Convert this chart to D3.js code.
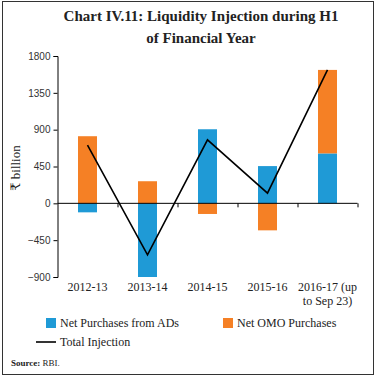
<!DOCTYPE html>
<html>
<head>
<meta charset="utf-8">
<script src="https://cdn.jsdelivr.net/npm/d3@7"></script>
<style>
  body { margin: 0; background: #fff; }
  svg { display: block; }
</style>
</head>
<body>
<div id="chart"></div>
<script>
// values (₹ billion)
var years = ["2012-13", "2013-14", "2014-15", "2015-16", "2016-17 (up|to Sep 23)"];
var netADs = [-110, -900, 905, 455, 610];
var netOMO = [820, 270, -130, -330, 1020];
var totalInjection = [710, -630, 775, 125, 1630];
var yTicks = [-900, -450, 0, 450, 900, 1350, 1800];

var W = 376, H = 377;
var blue = "#1f9ad6", orange = "#f58025";
var serif = "'Liberation Serif', 'DejaVu Serif', serif";

var svg = d3.select("#chart").append("svg")
    .attr("width", W)
    .attr("height", H);

// outer frame
svg.append("rect")
    .attr("x", 2.5).attr("y", 1.5)
    .attr("width", 371).attr("height", 373)
    .attr("fill", "none")
    .attr("stroke", "#333")
    .attr("stroke-width", 1);

// title
var title = svg.append("text")
    .attr("text-anchor", "middle")
    .attr("font-family", serif)
    .attr("font-weight", "bold")
    .attr("font-size", 15)
    .attr("fill", "#222");
title.append("tspan").attr("x", 201).attr("y", 21).text("Chart IV.11: Liquidity Injection during H1");
title.append("tspan").attr("x", 201).attr("y", 43).text("of Financial Year");

var x = d3.scaleBand()
    .domain(years)
    .range([57.5, 357.5]);

var y = d3.scaleLinear()
    .domain([-900, 1800])
    .range([277, 56]);

var barW = 19;

// bars: ADs and OMO stacked separately on each side of zero
function stackPos(i, which) {
    var a = netADs[i], o = netOMO[i];
    if (which === "ads") {
        return [0, a];
    }
    // OMO starts where ADs ended if same sign, otherwise from zero
    if ((a >= 0) === (o >= 0)) return [a, a + o];
    return [0, o];
}

var g = svg.append("g");

years.forEach(function(yr, i) {
    [["ads", blue], ["omo", orange]].forEach(function(s) {
        var p = stackPos(i, s[0]);
        g.append("rect")
            .attr("x", x(yr) + x.bandwidth() / 2 - barW / 2)
            .attr("y", y(Math.max(p[0], p[1])))
            .attr("width", barW)
            .attr("height", Math.abs(y(p[0]) - y(p[1])))
            .attr("fill", s[1]);
    });
});

// y axis
var yAxis = svg.append("g")
    .attr("transform", "translate(57.5,0)")
    .call(d3.axisLeft(y).tickValues(yTicks).tickSize(4).tickPadding(3).tickFormat(d3.format("d")));
yAxis.select(".domain").attr("stroke", "#000");
yAxis.selectAll("line").attr("stroke", "#000");
yAxis.selectAll("text")
    .attr("font-family", "'Liberation Sans', Arial, sans-serif")
    .attr("font-size", 10)
    .attr("fill", "#333");

// x axis at zero with ticks on band edges
var xAxis = svg.append("g")
    .attr("transform", "translate(0," + y(0) + ")");
xAxis.append("line")
    .attr("x1", 57.5).attr("x2", 357.5)
    .attr("stroke", "#000");
years.forEach(function(yr) {
    xAxis.append("line")
        .attr("x1", x(yr) + x.bandwidth() + 0.5).attr("x2", x(yr) + x.bandwidth() + 0.5)
        .attr("y1", 0).attr("y2", 4)
        .attr("stroke", "#000");
});

// x labels at the bottom
years.forEach(function(yr) {
    var t = svg.append("text")
        .attr("text-anchor", "middle")
        .attr("font-family", serif)
        .attr("font-size", 12)
        .attr("fill", "#222");
    yr.split("|").forEach(function(part, k) {
        t.append("tspan")
            .attr("x", x(yr) + x.bandwidth() / 2)
            .attr("y", 291 + k * 14)
            .text(part);
    });
});

// total injection line
var line = d3.line()
    .x(function(d, i) { return x(years[i]) + x.bandwidth() / 2; })
    .y(function(d) { return y(d); });

svg.append("path")
    .datum(totalInjection)
    .attr("d", line)
    .attr("fill", "none")
    .attr("stroke", "#000")
    .attr("stroke-width", 1.6);

// y axis title
svg.append("text")
    .attr("transform", "translate(20,168) rotate(-90)")
    .attr("text-anchor", "middle")
    .attr("font-family", serif)
    .attr("font-size", 13)
    .attr("fill", "#222")
    .text("₹ billion");

// legend
var legend = svg.append("g")
    .attr("font-family", serif)
    .attr("font-size", 12)
    .attr("fill", "#222");
legend.append("rect").attr("x", 46).attr("y", 318).attr("width", 10).attr("height", 10).attr("fill", blue);
legend.append("text").attr("x", 60).attr("y", 327).text("Net Purchases from ADs");
legend.append("rect").attr("x", 223).attr("y", 318).attr("width", 10).attr("height", 10).attr("fill", orange);
legend.append("text").attr("x", 237).attr("y", 327).text("Net OMO Purchases");
legend.append("line").attr("x1", 36).attr("x2", 56).attr("y1", 342).attr("y2", 342)
    .attr("stroke", "#000").attr("stroke-width", 1.6);
legend.append("text").attr("x", 60).attr("y", 346).text("Total Injection");

// source
var src = svg.append("text")
    .attr("x", 11).attr("y", 366)
    .attr("font-family", serif)
    .attr("font-size", 9)
    .attr("fill", "#222");
src.append("tspan").attr("font-weight", "bold").text("Source:");
src.append("tspan").text(" RBI.");
</script>
</body>
</html>
